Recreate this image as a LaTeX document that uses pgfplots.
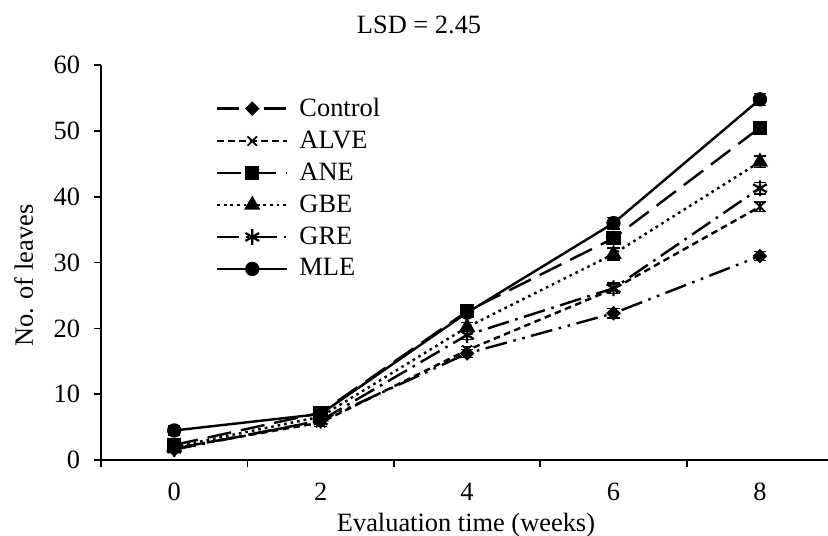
\documentclass[border=0pt]{standalone}
\usepackage{fontspec}
\setmainfont{Liberation Serif}
\usepackage{pgfplots}
\pgfplotsset{compat=1.18}
\usepackage{pgfplotstable}

\pgfplotstableread{
x y e
0 1.6 0.4
2 6.0 0.5
4 16.2 0.6
6 22.3 0.7
8 31.0 0.7
}\control
\pgfplotstableread{
x y e
0 1.8 0.4
2 5.7 0.6
4 16.7 0.6
6 26.0 0.7
8 38.5 0.7
}\alve
\pgfplotstableread{
x y e
0 2.3 0.5
2 7.2 0.6
4 22.6 0.7
6 33.7 0.8
8 50.5 0.8
}\ane
\pgfplotstableread{
x y e
0 2.0 0.5
2 6.6 0.6
4 20.2 0.7
6 31.3 0.9
8 45.3 0.9
}\gbe
\pgfplotstableread{
x y e
0 1.7 0.4
2 6.0 0.6
4 19.0 0.7
6 26.1 0.8
8 41.3 0.9
}\gre
\pgfplotstableread{
x y e
0 4.5 0.7
2 7.0 0.6
4 22.4 0.7
6 36.0 0.9
8 54.8 0.9
}\mle

\begin{document}
\begin{tikzpicture}[font=\fontsize{12}{14.4}\selectfont]
\begin{axis}[
  at={(0,0)}, anchor=south west,
  scale only axis, width=330.4pt, height=179.5pt,
  xmin=-1, xmax=8.93, ymin=0, ymax=60,
  axis x line*=bottom, axis y line*=left,
  axis line style={line width=0.9pt},
  tick align=outside,
  major tick length=3pt,
  tick style={line width=0.8pt, black},
  ytick={0,10,...,60},
  xtick={-1,1,3,5,7}, xticklabels={},
  extra x ticks={0,2,4,6,8},
  extra x tick style={major tick length=0pt},
  extra x tick labels={0,2,4,6,8},
  /pgf/number format/assume math mode=true,
  xticklabel style={yshift=-7pt},
  yticklabel style={xshift=-3pt},
  clip=false,
  xlabel={Evaluation time (weeks)},
  xlabel style={at={(rel axis cs:0.502,0)}, anchor=base, yshift=-32.3pt},
  ylabel={No. of leaves},
  ylabel style={at={(axis cs:-1.929,28)}, anchor=base},
  legend style={at={(rel axis cs:0.1486,0.935)}, anchor=north west, draw=none, fill=none,
    row sep=3.1pt, nodes={inner sep=1pt},
    /tikz/every odd column/.append style={column sep=4pt}},
  legend cell align=left,
  legend image code/.code={\draw[mark repeat=2,mark phase=2,#1] plot coordinates {(0pt,0pt)(15.9pt,0pt)(31.8pt,0pt)};},
  every axis plot/.append style={black, line width=1.1pt},
  error bars/y dir=both, error bars/y explicit,
  error bars/error mark options={rotate=90, mark size=2.8pt, line width=0.6pt, black, solid},
  error bars/error bar style={line width=0.6pt, black, solid},
]
\addplot[dash pattern=on 10pt off 3pt on 1.2pt off 3pt on 1.2pt off 3pt, mark=square*, mark size=1.8pt, mark options={solid, rotate=45}]
  table[x=x, y=y, y error=e] {\control};
\addlegendentry{Control}
\addplot[dash pattern=on 3pt off 2pt, mark=x, mark size=3pt, mark options={solid, line width=0.8pt}]
  table[x=x, y=y, y error=e] {\alve};
\addlegendentry{ALVE}
\addplot[dash pattern=on 11pt off 4.5pt, mark=square*, mark size=2.7pt, mark options={solid}]
  table[x=x, y=y, y error=e] {\ane};
\addlegendentry{ANE}
\addplot[dash pattern=on 1.2pt off 1.8pt, mark=triangle*, mark size=3.2pt, mark options={solid}]
  table[x=x, y=y, y error=e] {\gbe};
\addlegendentry{GBE}
\addplot[dash pattern=on 10pt off 3pt on 1.2pt off 3pt, mark=asterisk, mark size=3.6pt, mark options={solid, line width=1pt}]
  table[x=x, y=y, y error=e] {\gre};
\addlegendentry{GRE}
\addplot[solid, mark=*, mark size=2.7pt]
  table[x=x, y=y, y error=e] {\mle};
\addlegendentry{MLE}
\node[anchor=base] at (rel axis cs:0.4375,1) [yshift=14.5pt] {LSD = 2.45};
\end{axis}
\pgfresetboundingbox
\path[use as bounding box] (-45.9pt,-34.1pt) rectangle (330.4pt,209.1pt);
\end{tikzpicture}
\end{document}
